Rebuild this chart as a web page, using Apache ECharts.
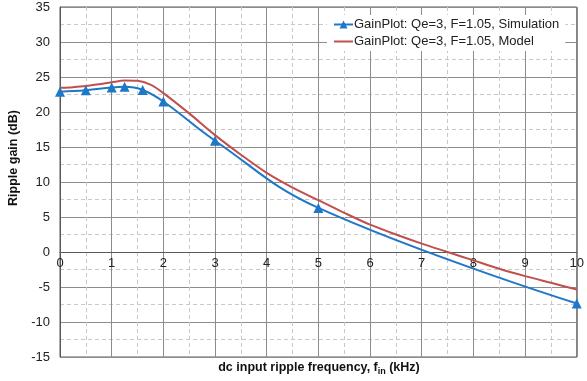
<!DOCTYPE html>
<html>
<head>
<meta charset="utf-8">
<script src="https://cdn.jsdelivr.net/npm/echarts@6/dist/echarts.min.js"></script>
<style>
  html, body { margin: 0; padding: 0; background: #fff; }
  #chart { width: 587px; height: 381px; }
</style>
</head>
<body>
<div id="chart"></div>
<script>
// Simulated ripple gain (dB) at the simulated frequencies (kHz)
const simFreq = [0, 0.5, 1, 1.25, 1.6, 2, 3, 5, 10];
const simGain = [22.9, 23.1, 23.5, 23.6, 23.15, 21.5, 15.9, 6.3, -7.35];

// Model ripple gain (dB) on a finer frequency grid (kHz)
const modelFreq = [0, 0.25, 0.5, 0.75, 1, 1.25, 1.5, 1.75, 2, 2.5, 3, 3.5, 4, 4.5, 5, 5.5, 6, 6.5, 7, 7.5, 8, 8.5, 9, 9.5, 10];
const modelGain = [23.45, 23.55, 23.7, 23.95, 24.25, 24.5, 24.45, 23.9, 22.7, 19.8, 16.7, 13.9, 11.3, 9.2, 7.4, 5.6, 3.9, 2.5, 1.2, 0.0, -1.2, -2.4, -3.45, -4.4, -5.35];

const simName = 'GainPlot: Qe=3, F=1.05, Simulation';
const modelName = 'GainPlot: Qe=3, F=1.05, Model';

const xMin = 0, xMax = 10, xStep = 1;
const yMin = -15, yMax = 35, yStep = 5;

const FONT = '"Liberation Sans", Arial, sans-serif';
const BLUE = '#1f77c8';
const RED = '#c0504d';

const W = 587, H = 381;
const GRID = { left: 60, right: 8, top: 7, bottom: 24 };
const plotH = H - GRID.top - GRID.bottom;
// the frequency axis crosses the gain axis at 0 dB
const xAxisShift = -((0 - yMin) / (yMax - yMin)) * plotH;

const zip = (xs, ys) => xs.map((x, i) => [x, ys[i]]);

const chart = echarts.init(document.getElementById('chart'), null, { renderer: 'canvas' });

chart.setOption({
  animation: false,
  backgroundColor: '#fff',
  textStyle: { fontFamily: FONT },
  grid: Object.assign({
    show: true, borderColor: '#595959', borderWidth: 1, backgroundColor: 'transparent'
  }, GRID),
  legend: {
    data: [simName, modelName],
    orient: 'vertical',
    left: 327, top: 15,
    itemWidth: 19, itemHeight: 10, itemGap: 4,
    padding: [3, 6, 3, 6],
    backgroundColor: '#fff',
    textStyle: { fontFamily: FONT, fontSize: 13, color: '#222', padding: [0, 0, 0, -4] }
  },
  xAxis: {
    type: 'value',
    min: xMin, max: xMax, interval: xStep,
    position: 'bottom',
    offset: xAxisShift,
    axisLine: { onZero: false, lineStyle: { color: '#595959', width: 1 } },
    axisTick: { show: false },
    axisLabel: { fontFamily: FONT, fontSize: 13, color: '#222', margin: 5 },
    splitLine: { show: true, lineStyle: { color: '#8c8c8c', width: 1 } },
    minorTick: { show: false, splitNumber: 2 },
    minorSplitLine: { show: true, lineStyle: { color: '#c8c8c8', type: [4, 3], width: 1 } }
  },
  yAxis: {
    type: 'value',
    min: yMin, max: yMax, interval: yStep,
    axisLine: { show: true, onZero: false, lineStyle: { color: '#595959' } },
    axisTick: { show: false },
    axisLabel: { fontFamily: FONT, fontSize: 13, color: '#222', margin: 10 },
    splitLine: { show: true, lineStyle: { color: '#8c8c8c', width: 1 } },
    minorTick: { show: false, splitNumber: 2 },
    minorSplitLine: { show: true, lineStyle: { color: '#c8c8c8', type: [4, 3], width: 1 } }
  },
  graphic: [
    {
      type: 'text',
      x: 14, y: 158, rotation: Math.PI / 2,
      style: {
        text: 'Ripple gain (dB)', fontFamily: FONT, fontSize: 12.5, fontWeight: 'bold',
        fill: '#111', align: 'center', verticalAlign: 'middle'
      }
    },
    {
      type: 'text',
      x: 319, y: 368,
      style: {
        text: '{t|dc input ripple frequency, f}{s|in}{t| (kHz)}',
        align: 'center', verticalAlign: 'middle',
        rich: {
          t: { fontFamily: FONT, fontSize: 12.5, fontWeight: 'bold', fill: '#111' },
          s: { fontFamily: FONT, fontSize: 9, fontWeight: 'bold', fill: '#111', padding: [7, 0, 0, 0] }
        }
      }
    }
  ],
  series: [
    {
      name: simName,
      type: 'line',
      data: zip(simFreq, simGain),
      smooth: 0.42,
      symbol: 'triangle', symbolSize: 10,
      lineStyle: { color: BLUE, width: 2 },
      itemStyle: { color: BLUE },
      z: 3
    },
    {
      name: modelName,
      type: 'line',
      data: zip(modelFreq, modelGain),
      smooth: 0.3,
      showSymbol: false,
      lineStyle: { color: RED, width: 2 },
      // no markers on the model curve (also keeps the legend icon a plain line)
      itemStyle: { color: RED, opacity: 0 },
      z: 2
    }
  ]
});
</script>
</body>
</html>
